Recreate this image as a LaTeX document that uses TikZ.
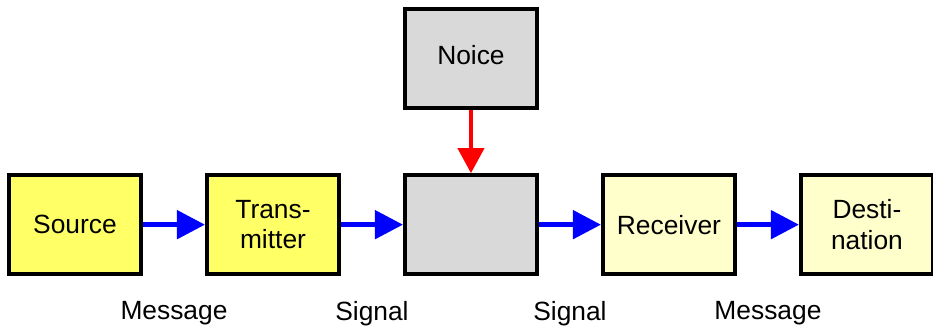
\documentclass[tikz,border=0pt]{standalone}
\usepackage{fontspec}
\setmainfont{Liberation Sans}
\usepackage{xcolor}
\usepackage{tikz}
\usetikzlibrary{arrows.meta,positioning}
\definecolor{blkyellow}{HTML}{FFFF66}
\definecolor{blkpale}{HTML}{FFFFCC}
\definecolor{blkgray}{HTML}{D9D9D9}
\tikzset{
  blk/.style={draw, line width=3.4pt, minimum width=3.96cm, minimum height=2.97cm,
              align=center, inner sep=2pt},
  srcblk/.style={blk, fill=blkyellow},
  rcvblk/.style={blk, fill=blkpale},
  chblk/.style={blk, fill=blkgray},
  flow/.style={draw=blue, line width=4.2pt, -{Triangle[length=0.84cm, width=0.84cm]}},
  noise/.style={draw=red, line width=3.4pt, -{Triangle[length=0.75cm, width=0.78cm]}},
  lbl/.style={font=\fontsize{22.5}{26}\selectfont},
}

\begin{document}
\begin{tikzpicture}[font=\fontsize{22.5}{26}\selectfont, node distance=1.86cm]
    \useasboundingbox (0,0) rectangle (27.99,9.84);
    \node[srcblk] (src) at (2.25,3.1) {Source};
    \node[srcblk, right=of src] (tx) {Trans-\\mitter};
    \node[chblk, right=of tx] (ch) {};
    \node[rcvblk, right=of ch] (rx) {Receiver};
    \node[rcvblk, right=of rx] (dst) {Desti-\\nation};
    \node[chblk, above=1.89cm of ch] (noi) {\raisebox{0.2cm}{Noice}};
    \draw[flow] (src) -- node[lbl, yshift=-2.67cm]{Message} (tx);
    \draw[flow] (tx) -- node[lbl, yshift=-2.67cm]{Signal} (ch);
    \draw[flow] (ch) -- node[lbl, yshift=-2.67cm]{Signal} (rx);
    \draw[flow] (rx) -- node[lbl, yshift=-2.67cm]{Message} (dst);
    \draw[noise] (noi) -- (ch);
\end{tikzpicture}
\end{document}
